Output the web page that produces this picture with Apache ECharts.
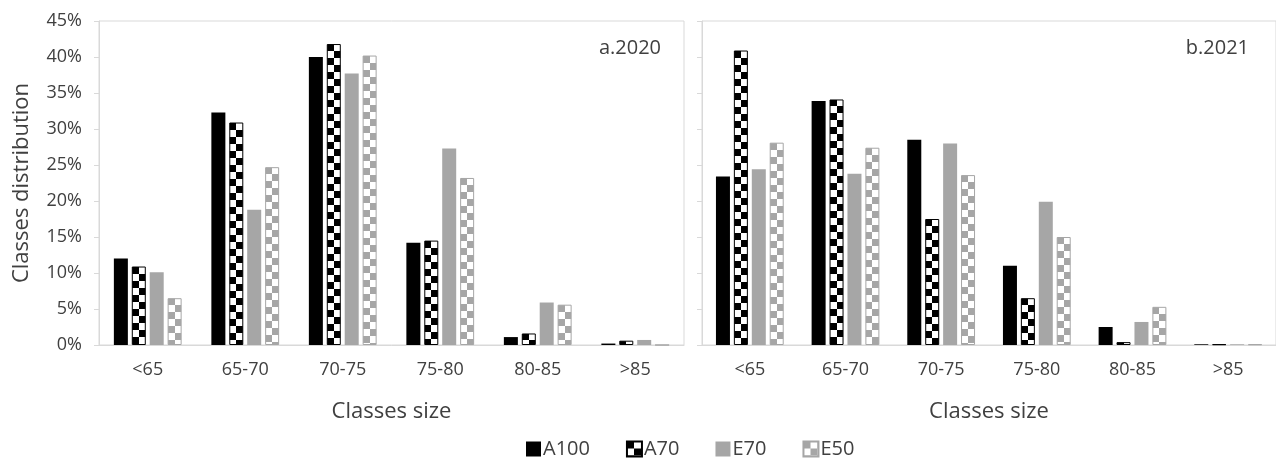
<!DOCTYPE html>
<html><head><meta charset="utf-8">
<script src="https://cdn.jsdelivr.net/npm/echarts@6/dist/echarts.min.js"></script>
<style>html,body{margin:0;padding:0;background:#fff}#c{width:1276px;height:459px}</style>
</head><body><div id="c"></div>
<script>
const categories = ['<65','65-70','70-75','75-80','80-85','>85'];
const seriesNames = ['A100','A70','E70','E50'];
const yTicks = [0,5,10,15,20,25,30,35,40,45];
// panel a.2020
const a2020_A100 = [12.0, 32.3, 40.0, 14.2, 1.1, 0.2];
const a2020_A70  = [10.9, 30.9, 41.8, 14.5, 1.6, 0.6];
const a2020_E70  = [10.1, 18.8, 37.7, 27.3, 5.9, 0.7];
const a2020_E50  = [6.5, 24.7, 40.2, 23.2, 5.6, 0.0];
// panel b.2021
const b2021_A100 = [23.4, 33.9, 28.5, 11.0, 2.5, 0.1];
const b2021_A70  = [40.9, 34.1, 17.5, 6.5, 0.4, 0.1];
const b2021_E70  = [24.4, 23.8, 28.0, 19.9, 3.2, 0.1];
const b2021_E50  = [28.1, 27.4, 23.6, 15.0, 5.3, 0.1];

function checkerCanvas(c1, c2, s) {
  const cv = document.createElement('canvas');
  cv.width = s*2; cv.height = s*2;
  const g = cv.getContext('2d');
  g.fillStyle = c2; g.fillRect(0,0,s*2,s*2);
  g.fillStyle = c1; g.fillRect(0,0,s,s); g.fillRect(s,s,s,s);
  return cv;
}
const cvA70 = checkerCanvas('#000000','#ffffff',7);
const cvE50 = checkerCanvas('#a6a6a6','#ffffff',7);
const styles = {
  A100: {color:'#000000', borderColor:'#000000', borderWidth:0},
  A70: {color: {image: cvA70, repeat:'repeat'}, borderColor:'#000000', borderWidth:1},
  E70: {color:'#a6a6a6', borderColor:'#a6a6a6', borderWidth:0},
  E50: {color: {image: cvE50, repeat:'repeat'}, borderColor:'#a6a6a6', borderWidth:1}
};
const font = '"Open Sans", "Noto Sans", sans-serif';
const panels = [[a2020_A100,a2020_A70,a2020_E70,a2020_E50],[b2021_A100,b2021_A70,b2021_E70,b2021_E50]];
const series = [];
panels.forEach((p, gi) => {
  p.forEach((d, si) => {
    series.push({
      type:'bar', name: seriesNames[si], xAxisIndex: gi, yAxisIndex: gi,
      data: d, barWidth: 14, barGap: '28%',
      itemStyle: styles[seriesNames[si]], emphasis:{disabled:true}
    });
  });
});
const grids = [
  {left:99, right:592, top:21, bottom:114, show:true, borderColor:'#d9d9d9', borderWidth:1},
  {left:702, right:-13, top:21, bottom:114, show:true, borderColor:'#d9d9d9', borderWidth:1}
];
const xAxes = [0,1].map(i => ({
  type:'category', gridIndex:i, data: categories,
  axisLine:{show:true, lineStyle:{color:'#d9d9d9'}}, axisTick:{show:false},
  axisLabel:{color:'#404040', fontSize:18, fontFamily:font, margin:16},
  name:'Classes size', nameLocation:'middle', nameGap:56,
  nameTextStyle:{color:'#404040', fontSize:22, fontFamily:font}
}));
const yAxes = [0,1].map(i => ({
  type:'value', gridIndex:i, min:0, max:45, interval:5,
  axisLine:{show:true, lineStyle:{color:'#d9d9d9'}},
  axisTick:{show:true, length:5, lineStyle:{color:'#d9d9d9'}},
  splitLine:{show:false},
  axisLabel:{show: i===0, color:'#404040', fontSize:18, fontFamily:font, margin:17,
    formatter: v => yTicks.includes(v) ? v + '%' : ''},
  name: i===0 ? 'Classes distribution' : '', nameLocation:'middle', nameGap:66,
  nameTextStyle:{color:'#404040', fontSize:22, fontFamily:font}
}));
const chart = echarts.init(document.getElementById('c'), null, {renderer:'canvas'});
chart.setOption({
  animation:false,
  backgroundColor:'#ffffff',
  title:[
    {text:'a.2020', right:610, top:33, textStyle:{fontSize:20, fontWeight:'normal', color:'#404040', fontFamily:font}},
    {text:'b.2021', right:22, top:33, textStyle:{fontSize:20, fontWeight:'normal', color:'#404040', fontFamily:font}}
  ],
  legend:{
    data: seriesNames, top:434, left:521, itemWidth:15, itemHeight:15, itemGap:36,
    icon:'rect', textStyle:{color:'#404040', fontSize:20, fontFamily:font, padding:[0,0,0,-3]}
  },
  grid: grids, xAxis: xAxes, yAxis: yAxes, series: series
});
// align checker patterns to each bar's own left/top edge (positions from the library's layout)
try {
  const model = chart.getModel();
  const upd = [];
  series.forEach((s, idx) => {
    const name = s.name;
    if (name !== 'A70' && name !== 'E50') { upd.push({}); return; }
    const data = model.getSeriesByIndex(idx).getData();
    const cv = name === 'A70' ? cvA70 : cvE50;
    const items = s.data.map((v, j) => {
      const l = data.getItemLayout(j);
      if (!l) return v;
      const top = Math.min(l.y, l.y + l.height);
      return {value: v, itemStyle: {color: {image: cv, repeat:'repeat', x: Math.round(l.x), y: Math.round(top)}}};
    });
    upd.push({data: items});
  });
  chart.setOption({series: upd});
} catch (e) { console.log(e); }
</script></body></html>
